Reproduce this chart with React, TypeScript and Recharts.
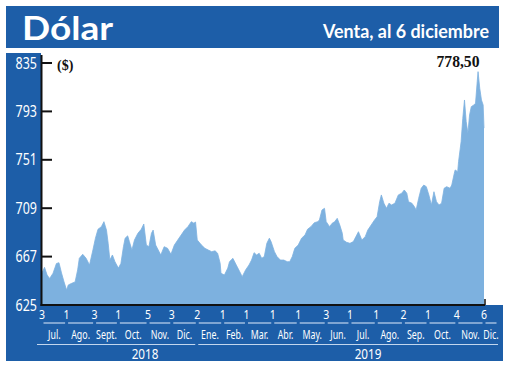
import { AreaChart, Area, XAxis, YAxis } from "recharts";

// días desde el 3 de julio de 2018
const dias = [
  0, 3, 6, 9, 13, 17, 20, 23, 26, 29, 31, 35, 39, 42, 44, 48, 52, 56, 60, 63,
  66, 70, 73, 76, 78, 80, 83, 86, 90, 93, 96, 98, 101, 103, 106, 109, 113, 117, 120, 123,
  126, 129, 131, 134, 137, 140, 144, 148, 152, 156, 160, 164, 168, 172, 176, 179, 181, 183, 188, 192,
  196, 200, 204, 207, 210, 211, 215, 219, 221, 225, 229, 233, 236, 240, 244, 247, 250, 253, 256, 259,
  262, 265, 268, 270, 274, 277, 281, 285, 289, 292, 295, 298, 302, 306, 310, 313, 317, 321, 325, 327,
  330, 333, 335, 339, 342, 345, 348, 351, 354, 355, 359, 363, 367, 371, 373, 377, 381, 384, 388, 392,
  395, 398, 400, 403, 406, 409, 412, 416, 420, 424, 427, 430, 432, 436, 439, 441, 444, 447, 450, 453,
  456, 459, 462, 465, 468, 471, 474, 477, 481, 483, 486, 487, 490, 491, 494, 496, 498, 500, 502, 504,
  506, 509, 511, 513, 514, 516, 518, 520, 521,
];

// dólar observado, venta ($)
const venta = [
  652.8, 657.7, 651, 648, 652.5, 661, 661.7, 652.8, 645, 638, 642.4, 643.8, 645, 655.4, 665.5, 669, 665.5, 659.7, 672.7, 683,
  690.7, 693, 697.3, 690, 678.5, 664, 668.4, 662.6, 657, 661, 675.6, 683, 685, 680, 672.7, 681.4, 687.2, 690.7, 695.3, 677,
  675.6, 687.2, 690, 677, 672.7, 668.4, 675.6, 674.2, 669, 677, 681.4, 685.7, 690, 693, 697.3, 696, 697, 681.4, 677, 674.2,
  672.7, 671.3, 672, 669.9, 661.2, 652.5, 651, 657, 662.6, 665.5, 659.7, 654, 649.6, 655.4, 659.7, 664, 670.4, 668.4, 669.9, 665.5,
  667, 678.5, 683, 680, 671.3, 667, 664, 664, 662.6, 662.6, 667, 674.2, 677, 683, 685.7, 690.7, 693, 696.4, 697.3, 698.8,
  707.4, 708.9, 697.3, 693, 695.9, 697.3, 700.2, 694.4, 687.2, 681.4, 679.4, 678.5, 680, 685.7, 688.6, 681.4, 684.3, 690, 694.4, 698.8,
  701.6, 714.6, 720.5, 713.3, 708.9, 713.3, 711.8, 713.3, 720.5, 722, 724.8, 722, 714.6, 713.3, 710.3, 707.4, 717.6, 726.3, 729.1, 727.7,
  720.5, 711.8, 723.3, 714.6, 711.8, 713.3, 726.3, 727.7, 726.3, 729.1, 739.3, 742.2, 740.7, 749.4, 766.7, 787, 802.9, 784.2, 774, 789.9,
  797.1, 798.6, 800, 818.8, 827.5, 813, 802.9, 798.6, 778.5,
];

const ticksY = [625, 667, 709, 751, 793, 835];

// primer día hábil de cada mes (días desde el 3 jul 2018)
const ticksDia = [0, 29, 62, 90, 125, 153, 183, 213, 241, 272, 302, 335, 363, 394, 426, 455, 489, 521];
const etiquetasDia = ["3", "1", "3", "1", "5", "3", "2", "1", "1", "1", "1", "3", "1", "1", "2", "1", "4", "6"];
const meses = ["Jul.", "Ago.", "Sept.", "Oct.", "Nov.", "Dic.", "Ene.", "Feb.", "Mar.", "Abr.", "May.", "Jun.", "Jul.", "Ago.", "Sep.", "Oct.", "Nov.", "Dic."];
const finDiciembre = 547; // 1 ene 2020
const anios = ["2018", "2019"];
const ultimoValor = "778,50";

const data = dias.map((d, i) => ({ dia: d, venta: venta[i] }));

const W = 520;
const H = 374;
const X0 = 42;
const X1 = 484;
const Y_TOP = 63;
const Y_BOT = 305;
const DOM_MAX = 521;
const pxDia = (X1 - X0) / DOM_MAX;
const dx = (d: number) => X0 + d * pxDia;

const AZUL = "#1d5ea8";
const RELLENO = "#7db1df";
const LINEA = "#c2d6ee";
const SANS = "'Noto Sans', 'Open Sans', sans-serif";
const SERIF = "'Liberation Serif', serif";

function TickY(props: any) {
  const { x, y, payload } = props;
  return (
    <g>
      <line x1={X0 - 1} x2={X0 + 10} y1={y} y2={y} stroke="#111" strokeWidth={2} />
      <text
        transform={`translate(${x},${y + 5.5}) scale(0.78,1)`}
        textAnchor="end"
        fill="#fff"
        fontSize={16}
        fontFamily={SANS}
      >
        {payload.value}
      </text>
    </g>
  );
}

function TickX(props: any) {
  const { x, y, payload } = props;
  const i = ticksDia.indexOf(payload.value);
  return (
    <text
      transform={`translate(${x},${y + 13.5}) scale(0.78,1)`}
      textAnchor="middle"
      fill="#fff"
      fontSize={13.5}
      fontFamily={SANS}
    >
      {etiquetasDia[i]}
    </text>
  );
}

function Fondo() {
  const limites = [...ticksDia, finDiciembre];
  return (
    <svg width={W} height={H} style={{ position: "absolute", left: 0, top: 0 }}>
      <rect x={6} y={6} width={493} height={42} fill={AZUL} />
      <text x={22} y={40} fill="#fff" fontSize={32} fontWeight="bold" fontFamily="Lato, sans-serif" textLength={91} lengthAdjust="spacingAndGlyphs">
        Dólar
      </text>
      <text x={323} y={37.5} fill="#fff" fontSize={19} fontWeight="bold" fontFamily="Lato, sans-serif" textLength={166} lengthAdjust="spacingAndGlyphs">
        Venta, al 6 diciembre
      </text>

      <rect x={6} y={53} width={35} height={308} fill={AZUL} />
      <rect x={6} y={305} width={497} height={56} fill={AZUL} />

      {meses.map((m, i) => {
        const a = dx(limites[i]);
        const b = Math.min(dx(limites[i + 1]), 498);
        return (
          <g key={i}>
            <line x1={a + 1.5} x2={b - 1.5} y1={323} y2={323} stroke={LINEA} strokeWidth={1.2} />
            <text
              transform={`translate(${(a + b) / 2},${338.5}) scale(0.68,1)`}
              textAnchor="middle"
              fill="#fff"
              fontSize={13}
              fontFamily={SANS}
            >
              {m}
            </text>
          </g>
        );
      })}

      <line x1={37} x2={dx(ticksDia[6]) - 2} y1={344.5} y2={344.5} stroke={LINEA} strokeWidth={1.2} />
      <line x1={dx(ticksDia[6]) + 1} x2={498} y1={344.5} y2={344.5} stroke={LINEA} strokeWidth={1.2} />
      <text transform={`translate(145,358.5) scale(0.78,1)`} textAnchor="middle" fill="#fff" fontSize={15} fontFamily={SANS}>
        {anios[0]}
      </text>
      <text transform={`translate(368,358.5) scale(0.78,1)`} textAnchor="middle" fill="#fff" fontSize={15} fontFamily={SANS}>
        {anios[1]}
      </text>

      <text x={57} y={70} fill="#111" fontSize={14} fontWeight="bold" fontFamily={SERIF}>
        ($)
      </text>
      <text x={458} y={67} textAnchor="middle" fill="#111" fontSize={17} fontWeight="bold" fontFamily={SERIF} textLength={43} lengthAdjust="spacingAndGlyphs">
        {ultimoValor}
      </text>
    </svg>
  );
}

function Ejes() {
  return (
    <svg width={W} height={H} style={{ position: "absolute", left: 0, top: 0, pointerEvents: "none" }}>
      <line x1={41.5} x2={41.5} y1={55} y2={306} stroke="#111" strokeWidth={2} />
      <line x1={40.5} x2={X1 + 1} y1={305} y2={305} stroke="#111" strokeWidth={2} />
      <line x1={X1 + 1} x2={X1 + 1} y1={299} y2={305} stroke="#111" strokeWidth={1.5} />
    </svg>
  );
}

export default function App() {
  return (
    <div style={{ position: "relative", width: W, height: H, background: "#fff" }}>
      <style>{"body{margin:0}"}</style>
      <Fondo />
      <div style={{ position: "absolute", left: 0, top: 0 }}>
        <AreaChart width={W} height={H} data={data} margin={{ top: Y_TOP, right: W - X1, bottom: 12, left: 0 }}>
          <XAxis
            type="number"
            dataKey="dia"
            domain={[0, DOM_MAX]}
            ticks={ticksDia}
            interval={0}
            height={H - 12 - Y_BOT}
            axisLine={false}
            tickLine={false}
            tickSize={0}
            tickMargin={0}
            tick={<TickX />}
          />
          <YAxis
            domain={[625, 835]}
            ticks={ticksY}
            width={X0}
            axisLine={false}
            tickLine={false}
            tickSize={0}
            tickMargin={5}
            interval={0}
            tick={<TickY />}
          />
          <Area
            type="linear"
            dataKey="venta"
            stroke={RELLENO}
            strokeWidth={0.8}
            fill={RELLENO}
            fillOpacity={1}
            isAnimationActive={false}
          />
        </AreaChart>
      </div>
      <Ejes />
    </div>
  );
}
